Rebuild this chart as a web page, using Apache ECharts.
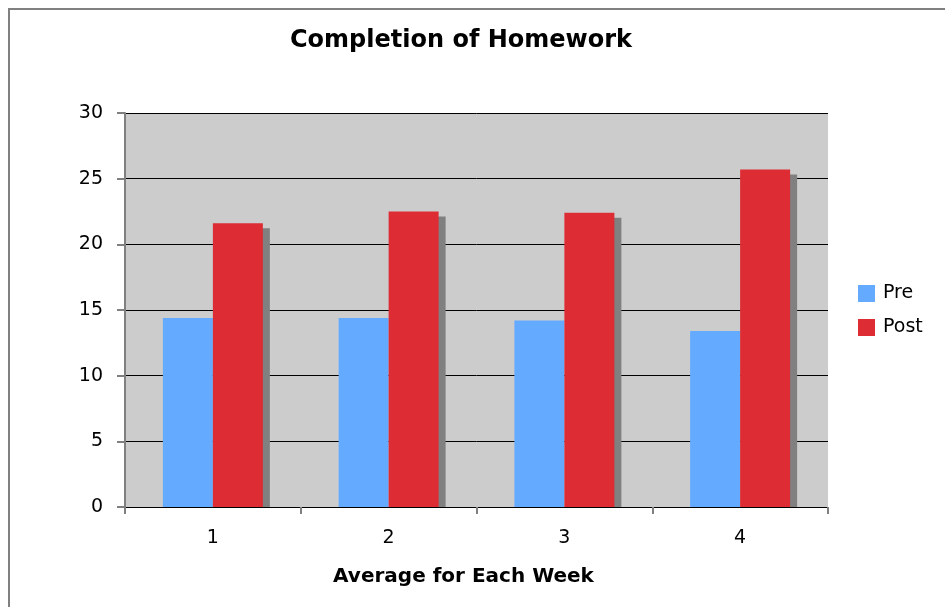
<!DOCTYPE html>
<html>
<head>
<meta charset="utf-8">
<script src="https://cdn.jsdelivr.net/npm/echarts@6/dist/echarts.min.js"></script>
<style>
  html, body { margin: 0; padding: 0; background: #fff; }
  #chart { width: 945px; height: 607px; }
</style>
</head>
<body>
<div id="chart"></div>
<script>
  // chart values
  var weeks = ['1', '2', '3', '4'];
  var preValues = [14.4, 14.4, 14.2, 13.4];
  var postValues = [21.6, 22.5, 22.4, 25.7];
  var seriesNames = ['Pre', 'Post'];

  var fontFamily = '"DejaVu Sans", Verdana, sans-serif';
  var barW = 50;

  var chart = echarts.init(document.getElementById('chart'));

  // gray drop shadow behind the Post bars (clipped at the zero line)
  var shadowData = postValues.map(function (v, i) { return [i, v]; });

  var option = {
    animation: false,
    backgroundColor: '#fff',
    graphic: [{
      type: 'rect',
      z: -10,
      shape: { x: 9, y: 9, width: 1000, height: 700 },
      style: { fill: 'none', stroke: '#808080', lineWidth: 2 }
    }],
    title: {
      text: 'Completion of Homework',
      left: 290,
      top: 29,
      padding: 0,
      textStyle: {
        fontFamily: fontFamily,
        fontSize: 24,
        fontWeight: 'bold',
        color: '#000'
      }
    },
    legend: {
      data: seriesNames,
      orient: 'vertical',
      left: 858,
      top: 284,
      padding: 0,
      itemWidth: 17,
      itemHeight: 17,
      itemGap: 15,
      icon: 'rect',
      textStyle: {
        fontFamily: fontFamily,
        fontSize: 19,
        color: '#000',
        padding: [0, 0, 0, 3]
      }
    },
    grid: {
      left: 125,
      right: 117,
      top: 113,
      bottom: 100,
      show: true,
      backgroundColor: '#CCCCCC',
      borderWidth: 0
    },
    xAxis: {
      type: 'category',
      data: weeks,
      boundaryGap: true,
      name: 'Average for Each Week',
      nameLocation: 'middle',
      nameGap: 60,
      nameTextStyle: {
        fontFamily: fontFamily,
        fontSize: 20,
        fontWeight: 'bold',
        color: '#000',
        padding: [0, 26, 0, 0]
      },
      axisLine: { show: true, lineStyle: { color: '#000', width: 1 } },
      axisTick: { show: true, length: 7, lineStyle: { color: '#808080', width: 2 } },
      axisLabel: {
        margin: 22,
        fontFamily: fontFamily,
        fontSize: 19,
        color: '#000'
      },
      splitLine: { show: false }
    },
    yAxis: {
      type: 'value',
      min: 0,
      max: 30,
      interval: 5,
      axisLine: { show: true, lineStyle: { color: '#808080', width: 2 } },
      axisTick: { show: true, length: 8, lineStyle: { color: '#808080', width: 2 } },
      axisLabel: {
        margin: 22,
        fontFamily: fontFamily,
        fontSize: 19,
        color: '#000'
      },
      splitLine: { show: true, lineStyle: { color: '#000', width: 1 } }
    },
    series: [
      {
        name: 'shadow',
        type: 'custom',
        z: 1,
        silent: true,
        data: shadowData,
        encode: { x: 0, y: 1 },
        renderItem: function (params, api) {
          var top = api.coord([api.value(0), api.value(1)]);
          var base = api.coord([api.value(0), 0]);
          return {
            type: 'rect',
            shape: {
              x: top[0] + 6,
              y: top[1] + 5,
              width: barW + 1,
              height: base[1] - top[1] - 5
            },
            style: { fill: '#808080' }
          };
        }
      },
      {
        name: 'Pre',
        type: 'bar',
        z: 2,
        barWidth: barW,
        barGap: '0%',
        itemStyle: { color: '#64AAFF' },
        data: preValues
      },
      {
        name: 'Post',
        type: 'bar',
        z: 2,
        barWidth: barW,
        barGap: '0%',
        itemStyle: { color: '#DD2C33' },
        data: postValues
      }
    ]
  };

  chart.setOption(option);
</script>
</body>
</html>
